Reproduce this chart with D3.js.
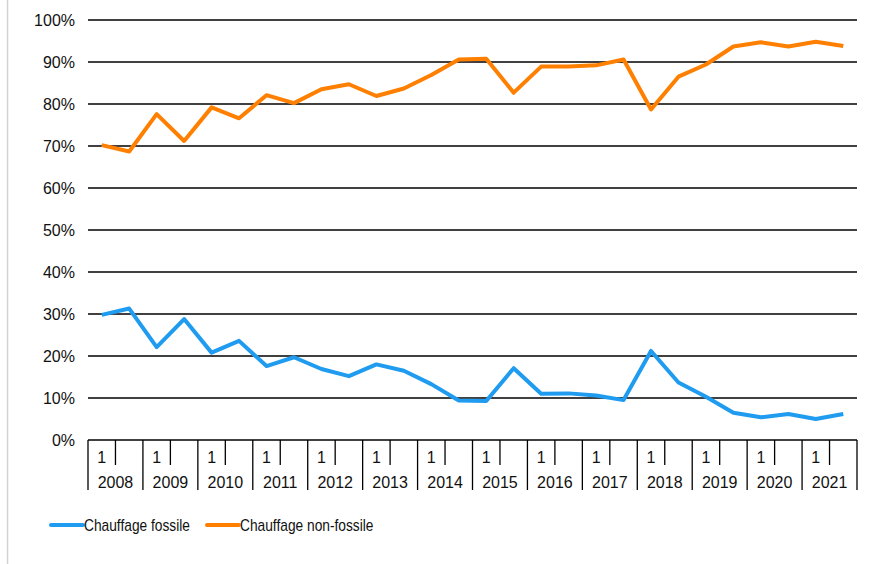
<!DOCTYPE html>
<html><head><meta charset="utf-8">
<script src="https://cdn.jsdelivr.net/npm/d3@7"></script>
<style>body{margin:0;background:#fff}svg{display:block}</style>
</head><body>
<svg id="c" width="869" height="564"></svg>
<script>
const years = ["2008","2009","2010","2011","2012","2013","2014","2015","2016","2017","2018","2019","2020","2021"];
const halves = ["1","2"];
const fossile = [29.8,31.3,22.1,28.8,20.8,23.6,17.6,19.7,16.9,15.2,18.0,16.5,13.3,9.4,9.3,17.1,11.0,11.1,10.6,9.5,21.2,13.7,10.3,6.5,5.4,6.2,5.0,6.2];
const nonFossile = [70.2,68.7,77.6,71.2,79.2,76.6,82.1,80.2,83.5,84.7,81.9,83.7,86.9,90.6,90.8,82.7,88.9,88.9,89.2,90.6,78.7,86.5,89.4,93.7,94.7,93.7,94.8,93.8];
const yTicks = [0,10,20,30,40,50,60,70,80,90,100];
const seriesNames = ["Chauffage fossile","Chauffage non-fossile"];
const colors = ["#1f9bf0","#ff7f00"];

const svg = d3.select("#c");
const L = 88, R = 857, T = 20, B = 440;
const periods = [];
years.forEach(y => halves.forEach(h => periods.push(y + "-" + h)));

const xYear = d3.scaleBand().domain(years).range([L, R]);
const x = d3.scaleBand().domain(periods).range([L, R]);
const y = d3.scaleLinear().domain([0, 100]).range([B, T]);
const font = "'Liberation Sans', Arial, sans-serif";

// left border
svg.append("line").attr("x1",7.5).attr("x2",7.5).attr("y1",0).attr("y2",564).attr("stroke","#d4d4d4").attr("stroke-width",1.5);

// gridlines
svg.append("g").selectAll("line").data(yTicks).join("line")
  .attr("x1", L).attr("x2", R)
  .attr("y1", d => y(d)).attr("y2", d => y(d))
  .attr("stroke", "#000").attr("stroke-width", 1.3);

// y labels
svg.append("g").selectAll("text").data(yTicks).join("text")
  .attr("x", 75).attr("y", d => y(d)).attr("dy","0.36em")
  .attr("text-anchor","end").attr("font-family",font).attr("font-size",16)
  .attr("fill","#111").text(d => d + "%");

// x axis ticks
const ax = svg.append("g");
const bounds = years.map(yy => xYear(yy)).concat([R]);
ax.selectAll("line.maj").data(bounds).join("line").attr("class","maj")
  .attr("x1", d => d).attr("x2", d => d).attr("y1", B).attr("y2", 490)
  .attr("stroke","#000").attr("stroke-width",1.3);
ax.selectAll("line.min").data(years).join("line").attr("class","min")
  .attr("x1", d => xYear(d) + xYear.bandwidth()/2).attr("x2", d => xYear(d) + xYear.bandwidth()/2)
  .attr("y1", B).attr("y2", 465)
  .attr("stroke","#000").attr("stroke-width",1.3);
ax.selectAll("text.h").data(years).join("text").attr("class","h")
  .attr("x", d => x(d + "-1") + x.bandwidth()/2).attr("y", 463)
  .attr("text-anchor","middle").attr("font-family",font).attr("font-size",16).attr("fill","#111")
  .text("1");
ax.selectAll("text.yr").data(years).join("text").attr("class","yr")
  .attr("x", d => xYear(d) + xYear.bandwidth()/2).attr("y", 488)
  .attr("text-anchor","middle").attr("font-family",font).attr("font-size",16).attr("fill","#111")
  .text(d => d);

// lines
const line = d3.line().x((d,i) => x(periods[i]) + x.bandwidth()/2).y(d => y(d));
[fossile, nonFossile].forEach((s, i) => {
  svg.append("path").datum(s).attr("d", line).attr("fill","none")
    .attr("stroke", colors[i]).attr("stroke-width", 4).attr("stroke-linejoin","round");
});

// legend
const legX = [51, 207];
const lg = svg.append("g");
seriesNames.forEach((n, i) => {
  lg.append("line").attr("x1", legX[i]).attr("x2", legX[i] + 32).attr("y1", 525).attr("y2", 525)
    .attr("stroke", colors[i]).attr("stroke-width", 4).attr("stroke-linecap","round");
  lg.append("text").attr("transform", `translate(${legX[i] + 33},525) scale(0.86,1)`)
    .attr("dy","0.36em")
    .attr("font-family",font)
    .attr("font-size",16).attr("fill","#111").text(n);
});
</script>
</body></html>
